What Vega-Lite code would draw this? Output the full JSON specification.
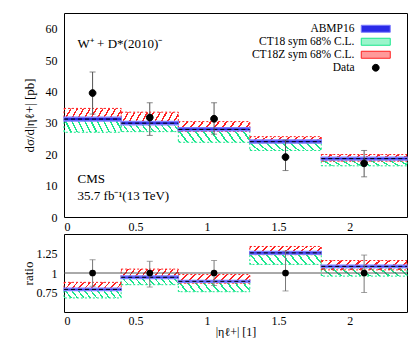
{
  "$schema": "https://vega.github.io/schema/vega-lite/v6.json",
  "autosize": {"type": "pad"},
  "padding": {"left": 21, "top": 12, "right": 6, "bottom": 0},
  "background": "white",
  "spacing": 0,
  "datasets": {
    "ct18": [
      {"x0": 0, "x1": 0.4, "lo": 27.0, "hi": 31.3, "rlo": 0.68, "rhi": 0.79},
      {"x0": 0.4, "x1": 0.8, "lo": 27.2, "hi": 30.0, "rlo": 0.85, "rhi": 0.95},
      {"x0": 0.8, "x1": 1.3, "lo": 23.8, "hi": 27.6, "rlo": 0.76, "rhi": 0.88},
      {"x0": 1.3, "x1": 1.8, "lo": 21.2, "hi": 23.6, "rlo": 1.11, "rhi": 1.235},
      {"x0": 1.8, "x1": 2.4, "lo": 16.3, "hi": 18.2, "rlo": 0.96, "rhi": 1.065}
    ],
    "ct18z": [
      {"x0": 0, "x1": 0.4, "lo": 31.0, "hi": 34.6, "rlo": 0.785, "rhi": 0.88},
      {"x0": 0.4, "x1": 0.8, "lo": 29.6, "hi": 33.4, "rlo": 0.935, "rhi": 1.05},
      {"x0": 0.8, "x1": 1.3, "lo": 27.3, "hi": 30.4, "rlo": 0.87, "rhi": 0.98},
      {"x0": 1.3, "x1": 1.8, "lo": 23.7, "hi": 25.6, "rlo": 1.235, "rhi": 1.34},
      {"x0": 1.8, "x1": 2.4, "lo": 17.8, "hi": 19.9, "rlo": 1.04, "rhi": 1.16}
    ],
    "abmp": [
      {"x0": 0, "x1": 0.4, "lo": 30.6, "c": 31.2, "hi": 31.8, "rlo": 0.775, "rc": 0.79, "rhi": 0.805},
      {"x0": 0.4, "x1": 0.8, "lo": 29.4, "c": 29.9, "hi": 30.4, "rlo": 0.93, "rc": 0.945, "rhi": 0.96},
      {"x0": 0.8, "x1": 1.3, "lo": 27.5, "c": 27.9, "hi": 28.4, "rlo": 0.88, "rc": 0.893, "rhi": 0.905},
      {"x0": 1.3, "x1": 1.8, "lo": 23.6, "c": 24.0, "hi": 24.5, "rlo": 1.24, "rc": 1.258, "rhi": 1.275},
      {"x0": 1.8, "x1": 2.4, "lo": 18.2, "c": 18.6, "hi": 19.0, "rlo": 1.07, "rc": 1.085, "rhi": 1.10}
    ],
    "pts": [
      {"model": "Data", "x": 0.2, "y": 39.5, "lo": 32.8, "hi": 46.2, "ratio": 1, "rlo": 0.83, "rhi": 1.17},
      {"model": "Data", "x": 0.6, "y": 31.7, "lo": 26.0, "hi": 36.4, "ratio": 1, "rlo": 0.82, "rhi": 1.15},
      {"model": "Data", "x": 1.05, "y": 31.3, "lo": 26.4, "hi": 36.4, "ratio": 1, "rlo": 0.84, "rhi": 1.16},
      {"model": "Data", "x": 1.55, "y": 19.1, "lo": 14.8, "hi": 24.5, "ratio": 1, "rlo": 0.77, "rhi": 1.28},
      {"model": "Data", "x": 2.1, "y": 17.1, "lo": 12.8, "hi": 21.2, "ratio": 1, "rlo": 0.75, "rhi": 1.23}
    ]
  },
  "config": {
    "view": {"stroke": "black", "strokeWidth": 1},
    "font": "Liberation Serif",
    "axis": {"labelFont": "Liberation Serif", "labelFontSize": 12, "labelColor": "black", "tickColor": "#333", "tickWidth": 1, "titleFont": "Liberation Serif", "titleFontSize": 13, "titleFontWeight": "normal", "titleColor": "black", "domain": false, "grid": false, "tickSize": 0, "labelPadding": 4, "labelOverlap": false, "labelSeparation": -100}
  },
  "resolve": {
    "scale": {"fill": "independent", "stroke": "independent", "shape": "independent"},
    "legend": {"fill": "independent", "stroke": "independent", "shape": "independent"}
  },
  "vconcat": [
    {
      "width": 343,
      "height": 204,
      "layer": [
        {
          "layer": [
            {
              "data": {"name": "ct18"},
              "mark": {"type": "rect", "stroke": "#19e68c", "strokeWidth": 1, "strokeDash": [2, 2],
                "fill": {"gradient": "linear", "x1": 0, "y1": 1, "x2": 1.1, "y2": 0.87, "stops": [
                  {"offset": 0, "color": "#19e68c"}, {"offset": 0.025, "color": "#19e68c"}, {"offset": 0.025, "color": "transparent"}, {"offset": 0.1, "color": "transparent"},
                  {"offset": 0.1, "color": "#19e68c"}, {"offset": 0.125, "color": "#19e68c"}, {"offset": 0.125, "color": "transparent"}, {"offset": 0.2, "color": "transparent"},
                  {"offset": 0.2, "color": "#19e68c"}, {"offset": 0.225, "color": "#19e68c"}, {"offset": 0.225, "color": "transparent"}, {"offset": 0.3, "color": "transparent"},
                  {"offset": 0.3, "color": "#19e68c"}, {"offset": 0.325, "color": "#19e68c"}, {"offset": 0.325, "color": "transparent"}, {"offset": 0.4, "color": "transparent"},
                  {"offset": 0.4, "color": "#19e68c"}, {"offset": 0.425, "color": "#19e68c"}, {"offset": 0.425, "color": "transparent"}, {"offset": 0.5, "color": "transparent"},
                  {"offset": 0.5, "color": "#19e68c"}, {"offset": 0.525, "color": "#19e68c"}, {"offset": 0.525, "color": "transparent"}, {"offset": 0.6, "color": "transparent"},
                  {"offset": 0.6, "color": "#19e68c"}, {"offset": 0.625, "color": "#19e68c"}, {"offset": 0.625, "color": "transparent"}, {"offset": 0.7, "color": "transparent"},
                  {"offset": 0.7, "color": "#19e68c"}, {"offset": 0.725, "color": "#19e68c"}, {"offset": 0.725, "color": "transparent"}, {"offset": 0.8, "color": "transparent"},
                  {"offset": 0.8, "color": "#19e68c"}, {"offset": 0.825, "color": "#19e68c"}, {"offset": 0.825, "color": "transparent"}, {"offset": 0.9, "color": "transparent"},
                  {"offset": 0.9, "color": "#19e68c"}, {"offset": 0.925, "color": "#19e68c"}, {"offset": 0.925, "color": "transparent"}, {"offset": 1, "color": "transparent"}]}},
              "encoding": {
                "x": {"field": "x0", "type": "quantitative", "title": null, "scale": {"domain": [0, 2.4], "nice": false, "zero": false},
                  "axis": {"title": null, "values": [0, 0.5, 1, 1.5, 2], "format": ".1~f", "ticks": false, "labelPadding": 4}},
                "x2": {"field": "x1"},
                "y": {"field": "lo", "type": "quantitative", "scale": {"domain": [0, 65], "nice": false, "zero": false},
                  "axis": {"title": "dσ/d|ηℓ+| [pb]", "values": [0, 20, 40, 60], "format": "d", "ticks": false, "labelPadding": 7, "titlePadding": 9}},
                "y2": {"field": "hi"}
              }
            },
            {
              "data": {"name": "ct18z"},
              "mark": {"type": "rect", "stroke": "#ff2020", "strokeWidth": 1, "strokeDash": [2, 2],
                "fill": {"gradient": "linear", "x1": 0, "y1": 0, "x2": 1.1, "y2": 0.13, "stops": [
                  {"offset": 0, "color": "#ff2020"}, {"offset": 0.025, "color": "#ff2020"}, {"offset": 0.025, "color": "transparent"}, {"offset": 0.1, "color": "transparent"},
                  {"offset": 0.1, "color": "#ff2020"}, {"offset": 0.125, "color": "#ff2020"}, {"offset": 0.125, "color": "transparent"}, {"offset": 0.2, "color": "transparent"},
                  {"offset": 0.2, "color": "#ff2020"}, {"offset": 0.225, "color": "#ff2020"}, {"offset": 0.225, "color": "transparent"}, {"offset": 0.3, "color": "transparent"},
                  {"offset": 0.3, "color": "#ff2020"}, {"offset": 0.325, "color": "#ff2020"}, {"offset": 0.325, "color": "transparent"}, {"offset": 0.4, "color": "transparent"},
                  {"offset": 0.4, "color": "#ff2020"}, {"offset": 0.425, "color": "#ff2020"}, {"offset": 0.425, "color": "transparent"}, {"offset": 0.5, "color": "transparent"},
                  {"offset": 0.5, "color": "#ff2020"}, {"offset": 0.525, "color": "#ff2020"}, {"offset": 0.525, "color": "transparent"}, {"offset": 0.6, "color": "transparent"},
                  {"offset": 0.6, "color": "#ff2020"}, {"offset": 0.625, "color": "#ff2020"}, {"offset": 0.625, "color": "transparent"}, {"offset": 0.7, "color": "transparent"},
                  {"offset": 0.7, "color": "#ff2020"}, {"offset": 0.725, "color": "#ff2020"}, {"offset": 0.725, "color": "transparent"}, {"offset": 0.8, "color": "transparent"},
                  {"offset": 0.8, "color": "#ff2020"}, {"offset": 0.825, "color": "#ff2020"}, {"offset": 0.825, "color": "transparent"}, {"offset": 0.9, "color": "transparent"},
                  {"offset": 0.9, "color": "#ff2020"}, {"offset": 0.925, "color": "#ff2020"}, {"offset": 0.925, "color": "transparent"}, {"offset": 1, "color": "transparent"}]}},
              "encoding": {
                "x": {"field": "x0", "type": "quantitative"},
                "x2": {"field": "x1"},
                "y": {"field": "lo", "type": "quantitative"},
                "y2": {"field": "hi"}
              }
            },
            {
              "data": {"name": "abmp"},
              "mark": {"type": "rect", "fill": "#2a2ae8", "stroke": "#7d7dff", "strokeWidth": 1.5},
              "encoding": {
                "x": {"field": "x0", "type": "quantitative"},
                "x2": {"field": "x1"},
                "y": {"field": "lo", "type": "quantitative"},
                "y2": {"field": "hi"}
              }
            },
            {
              "data": {"name": "abmp"},
              "mark": {"type": "rule", "color": "black", "strokeWidth": 1, "strokeDash": [4, 3]},
              "encoding": {
                "x": {"field": "x0", "type": "quantitative"},
                "x2": {"field": "x1"},
                "y": {"field": "c", "type": "quantitative"}
              }
            },
            {
              "data": {"name": "pts"},
              "mark": {"type": "rule", "color": "#555", "strokeWidth": 1},
              "encoding": {
                "x": {"field": "x", "type": "quantitative"},
                "y": {"field": "lo", "type": "quantitative"},
                "y2": {"field": "hi"}
              }
            },
            {
              "data": {"name": "pts"},
              "mark": {"type": "tick", "orient": "horizontal", "size": 6, "thickness": 1, "color": "#555"},
              "encoding": {
                "x": {"field": "x", "type": "quantitative"},
                "y": {"field": "lo", "type": "quantitative"}
              }
            },
            {
              "data": {"name": "pts"},
              "mark": {"type": "tick", "orient": "horizontal", "size": 6, "thickness": 1, "color": "#555"},
              "encoding": {
                "x": {"field": "x", "type": "quantitative"},
                "y": {"field": "hi", "type": "quantitative"}
              }
            },
            {
              "data": {"name": "pts"},
              "mark": {"type": "point", "filled": true, "opacity": 1, "strokeWidth": 1, "size": 100},
              "encoding": {
                "x": {"field": "x", "type": "quantitative"},
                "y": {"field": "y", "type": "quantitative"},
                "fill": {"field": "model", "type": "nominal",
                  "scale": {"domain": ["ABMP16", "CT18 sym 68% C.L.", "CT18Z sym 68% C.L.", "Data"], "range": ["#2a2ae8", "#9af5cb", "#ff9a9a", "black"]},
                  "legend": {"orient": "none", "legendX": 306, "legendY": 10, "title": null, "labelAlign": "right", "labelOffset": -27, "labelFont": "Liberation Serif", "labelFontSize": 11.5, "labelColor": "black", "rowPadding": 0, "padding": 0, "symbolStrokeWidth": 1, "symbolOpacity": 1, "symbolSize": 100}},
                "stroke": {"field": "model", "type": "nominal",
                  "scale": {"domain": ["ABMP16", "CT18 sym 68% C.L.", "CT18Z sym 68% C.L.", "Data"], "range": ["#7d7dff", "#19e68c", "#ff2020", "black"]},
                  "legend": {"orient": "none", "legendX": 306, "legendY": 10, "title": null, "labelAlign": "right", "labelOffset": -27, "labelFont": "Liberation Serif", "labelFontSize": 11.5, "labelColor": "black", "rowPadding": 0, "padding": 0, "symbolStrokeWidth": 1, "symbolOpacity": 1, "symbolSize": 100}},
                "shape": {"field": "model", "type": "nominal",
                  "scale": {"domain": ["ABMP16", "CT18 sym 68% C.L.", "CT18Z sym 68% C.L.", "Data"], "range": ["M-2.9,-0.7H2.9V0.7H-2.9Z", "M-2.9,-0.7H2.9V0.7H-2.9Z", "M-2.9,-0.7H2.9V0.7H-2.9Z", "M-0.68,0A0.68,0.68 0 1,0 0.68,0A0.68,0.68 0 1,0 -0.68,0Z"]},
                  "legend": {"orient": "none", "legendX": 306, "legendY": 10, "title": null, "labelAlign": "right", "labelOffset": -27, "labelFont": "Liberation Serif", "labelFontSize": 11.5, "labelColor": "black", "rowPadding": 0, "padding": 0, "symbolStrokeWidth": 1, "symbolOpacity": 1, "symbolSize": 100}}
              }
            }
          ]
        },
        {
          "data": {"values": [{"t": "W⁺ + D*(2010)⁻"}]},
          "mark": {"type": "text", "align": "left", "baseline": "middle", "fontSize": 13, "font": "Liberation Serif", "color": "black"},
          "encoding": {
            "x": {"datum": 0.095, "type": "quantitative",
              "axis": {"orient": "top", "title": null, "labels": false, "tickSize": 0,
                "values": [0, 0.1, 0.2, 0.3, 0.4, 0.5, 0.6, 0.7, 0.8, 0.9, 1, 1.1, 1.2, 1.3, 1.4, 1.5, 1.6, 1.7, 1.8, 1.9, 2, 2.1, 2.2, 2.3, 2.4],
                "encode": {"ticks": {"y2": {"value": {"signal": "datum.value % 0.5 === 0 ? 9 : 4"}}}}}},
            "y": {"datum": 55, "type": "quantitative",
              "axis": {"orient": "right", "title": null, "labels": false, "tickSize": 0,
                "values": [0, 2, 4, 6, 8, 10, 12, 14, 16, 18, 20, 22, 24, 26, 28, 30, 32, 34, 36, 38, 40, 42, 44, 46, 48, 50, 52, 54, 56, 58, 60, 62, 64],
                "encode": {"ticks": {"x2": {"value": {"signal": "datum.value % 10 === 0 ? -9 : -4"}}}}}},
            "text": {"field": "t"}
          }
        },
        {
          "data": {"values": [{"t": "CMS"}]},
          "mark": {"type": "text", "align": "left", "baseline": "middle", "fontSize": 13, "font": "Liberation Serif", "color": "black"},
          "encoding": {
            "x": {"datum": 0.095, "type": "quantitative",
              "axis": {"orient": "bottom", "title": null, "labels": false, "tickSize": 0,
                "values": [0, 0.1, 0.2, 0.3, 0.4, 0.5, 0.6, 0.7, 0.8, 0.9, 1, 1.1, 1.2, 1.3, 1.4, 1.5, 1.6, 1.7, 1.8, 1.9, 2, 2.1, 2.2, 2.3, 2.4],
                "encode": {"ticks": {"y2": {"value": {"signal": "datum.value % 0.5 === 0 ? -9 : -4"}}}}}},
            "y": {"datum": 12.2, "type": "quantitative",
              "axis": {"orient": "left", "title": null, "labels": false, "tickSize": 0,
                "values": [0, 2, 4, 6, 8, 10, 12, 14, 16, 18, 20, 22, 24, 26, 28, 30, 32, 34, 36, 38, 40, 42, 44, 46, 48, 50, 52, 54, 56, 58, 60, 62, 64],
                "encode": {"ticks": {"x2": {"value": {"signal": "datum.value % 10 === 0 ? 9 : 4"}}}}}},
            "text": {"field": "t"}
          }
        },
        {
          "data": {"values": [{"t": "35.7 fb⁻¹(13 TeV)"}]},
          "mark": {"type": "text", "align": "left", "baseline": "middle", "fontSize": 13, "font": "Liberation Serif", "color": "black"},
          "encoding": {
            "x": {"datum": 0.095, "type": "quantitative", "axis": null},
            "y": {"datum": 6.7, "type": "quantitative",
              "axis": {"orient": "left", "title": null, "values": [10, 30, 50], "format": "d", "ticks": false, "labelPadding": 7}},
            "text": {"field": "t"}
          }
        }
      ],
      "resolve": {"axis": {"x": "independent", "y": "independent"}}
    },
    {
      "width": 343,
      "height": 78,
      "layer": [
        {
          "layer": [
            {
              "data": {"name": "ct18"},
              "mark": {"type": "rect", "stroke": "#19e68c", "strokeWidth": 1, "strokeDash": [2, 2],
                "fill": {"gradient": "linear", "x1": 0, "y1": 1, "x2": 1.1, "y2": 0.87, "stops": [
                  {"offset": 0, "color": "#19e68c"}, {"offset": 0.025, "color": "#19e68c"}, {"offset": 0.025, "color": "transparent"}, {"offset": 0.1, "color": "transparent"},
                  {"offset": 0.1, "color": "#19e68c"}, {"offset": 0.125, "color": "#19e68c"}, {"offset": 0.125, "color": "transparent"}, {"offset": 0.2, "color": "transparent"},
                  {"offset": 0.2, "color": "#19e68c"}, {"offset": 0.225, "color": "#19e68c"}, {"offset": 0.225, "color": "transparent"}, {"offset": 0.3, "color": "transparent"},
                  {"offset": 0.3, "color": "#19e68c"}, {"offset": 0.325, "color": "#19e68c"}, {"offset": 0.325, "color": "transparent"}, {"offset": 0.4, "color": "transparent"},
                  {"offset": 0.4, "color": "#19e68c"}, {"offset": 0.425, "color": "#19e68c"}, {"offset": 0.425, "color": "transparent"}, {"offset": 0.5, "color": "transparent"},
                  {"offset": 0.5, "color": "#19e68c"}, {"offset": 0.525, "color": "#19e68c"}, {"offset": 0.525, "color": "transparent"}, {"offset": 0.6, "color": "transparent"},
                  {"offset": 0.6, "color": "#19e68c"}, {"offset": 0.625, "color": "#19e68c"}, {"offset": 0.625, "color": "transparent"}, {"offset": 0.7, "color": "transparent"},
                  {"offset": 0.7, "color": "#19e68c"}, {"offset": 0.725, "color": "#19e68c"}, {"offset": 0.725, "color": "transparent"}, {"offset": 0.8, "color": "transparent"},
                  {"offset": 0.8, "color": "#19e68c"}, {"offset": 0.825, "color": "#19e68c"}, {"offset": 0.825, "color": "transparent"}, {"offset": 0.9, "color": "transparent"},
                  {"offset": 0.9, "color": "#19e68c"}, {"offset": 0.925, "color": "#19e68c"}, {"offset": 0.925, "color": "transparent"}, {"offset": 1, "color": "transparent"}]}},
              "encoding": {
                "x": {"field": "x0", "type": "quantitative", "scale": {"domain": [0, 2.4], "nice": false, "zero": false},
                  "axis": {"title": "|ηℓ+| [1]", "titleFontSize": 12, "values": [0, 0.5, 1, 1.5, 2], "format": ".1~f", "ticks": false, "labelPadding": 3, "titlePadding": 0}},
                "x2": {"field": "x1"},
                "y": {"field": "rlo", "type": "quantitative", "scale": {"domain": [0.5, 1.5], "nice": false, "zero": false},
                  "axis": {"title": "ratio", "values": [0.75, 1.25], "format": ".2~f", "ticks": false, "labelPadding": 7, "titlePadding": 1}},
                "y2": {"field": "rhi"}
              }
            },
            {
              "data": {"name": "ct18z"},
              "mark": {"type": "rect", "stroke": "#ff2020", "strokeWidth": 1, "strokeDash": [2, 2],
                "fill": {"gradient": "linear", "x1": 0, "y1": 0, "x2": 1.1, "y2": 0.13, "stops": [
                  {"offset": 0, "color": "#ff2020"}, {"offset": 0.025, "color": "#ff2020"}, {"offset": 0.025, "color": "transparent"}, {"offset": 0.1, "color": "transparent"},
                  {"offset": 0.1, "color": "#ff2020"}, {"offset": 0.125, "color": "#ff2020"}, {"offset": 0.125, "color": "transparent"}, {"offset": 0.2, "color": "transparent"},
                  {"offset": 0.2, "color": "#ff2020"}, {"offset": 0.225, "color": "#ff2020"}, {"offset": 0.225, "color": "transparent"}, {"offset": 0.3, "color": "transparent"},
                  {"offset": 0.3, "color": "#ff2020"}, {"offset": 0.325, "color": "#ff2020"}, {"offset": 0.325, "color": "transparent"}, {"offset": 0.4, "color": "transparent"},
                  {"offset": 0.4, "color": "#ff2020"}, {"offset": 0.425, "color": "#ff2020"}, {"offset": 0.425, "color": "transparent"}, {"offset": 0.5, "color": "transparent"},
                  {"offset": 0.5, "color": "#ff2020"}, {"offset": 0.525, "color": "#ff2020"}, {"offset": 0.525, "color": "transparent"}, {"offset": 0.6, "color": "transparent"},
                  {"offset": 0.6, "color": "#ff2020"}, {"offset": 0.625, "color": "#ff2020"}, {"offset": 0.625, "color": "transparent"}, {"offset": 0.7, "color": "transparent"},
                  {"offset": 0.7, "color": "#ff2020"}, {"offset": 0.725, "color": "#ff2020"}, {"offset": 0.725, "color": "transparent"}, {"offset": 0.8, "color": "transparent"},
                  {"offset": 0.8, "color": "#ff2020"}, {"offset": 0.825, "color": "#ff2020"}, {"offset": 0.825, "color": "transparent"}, {"offset": 0.9, "color": "transparent"},
                  {"offset": 0.9, "color": "#ff2020"}, {"offset": 0.925, "color": "#ff2020"}, {"offset": 0.925, "color": "transparent"}, {"offset": 1, "color": "transparent"}]}},
              "encoding": {
                "x": {"field": "x0", "type": "quantitative"},
                "x2": {"field": "x1"},
                "y": {"field": "rlo", "type": "quantitative"},
                "y2": {"field": "rhi"}
              }
            },
            {
              "data": {"name": "abmp"},
              "mark": {"type": "rect", "fill": "#2a2ae8", "stroke": "#7d7dff", "strokeWidth": 1.5},
              "encoding": {
                "x": {"field": "x0", "type": "quantitative"},
                "x2": {"field": "x1"},
                "y": {"field": "rlo", "type": "quantitative"},
                "y2": {"field": "rhi"}
              }
            },
            {
              "data": {"name": "abmp"},
              "mark": {"type": "rule", "color": "black", "strokeWidth": 1, "strokeDash": [4, 3]},
              "encoding": {
                "x": {"field": "x0", "type": "quantitative"},
                "x2": {"field": "x1"},
                "y": {"field": "rc", "type": "quantitative"}
              }
            },
            {
              "data": {"name": "pts"},
              "mark": {"type": "rule", "color": "#777", "strokeWidth": 1},
              "encoding": {
                "x": {"field": "x", "type": "quantitative"},
                "y": {"field": "rlo", "type": "quantitative"},
                "y2": {"field": "rhi"}
              }
            },
            {
              "data": {"name": "pts"},
              "mark": {"type": "tick", "orient": "horizontal", "size": 6, "thickness": 1, "color": "#777"},
              "encoding": {
                "x": {"field": "x", "type": "quantitative"},
                "y": {"field": "rlo", "type": "quantitative"}
              }
            }
          ]
        },
        {
          "data": {"values": [{"ratio": 1}]},
          "mark": {"type": "rule", "color": "#555", "strokeWidth": 1},
          "encoding": {
            "y": {"field": "ratio", "type": "quantitative",
              "axis": {"orient": "left", "title": null, "values": [1], "format": ".2~f", "ticks": false, "labelPadding": 7}}
          }
        },
        {
          "data": {"name": "pts"},
          "mark": {"type": "tick", "orient": "horizontal", "size": 6, "thickness": 1, "color": "#777"},
          "encoding": {
            "x": {"field": "x", "type": "quantitative",
              "axis": {"orient": "bottom", "title": null, "labels": false, "tickSize": 0,
                "values": [0, 0.1, 0.2, 0.3, 0.4, 0.5, 0.6, 0.7, 0.8, 0.9, 1, 1.1, 1.2, 1.3, 1.4, 1.5, 1.6, 1.7, 1.8, 1.9, 2, 2.1, 2.2, 2.3, 2.4],
                "encode": {"ticks": {"y2": {"value": {"signal": "datum.value % 0.5 === 0 ? -9 : -4"}}}}}},
            "y": {"field": "rhi", "type": "quantitative",
              "axis": {"orient": "left", "title": null, "labels": false, "tickSize": 0,
                "values": [0.5, 0.625, 0.75, 0.875, 1, 1.125, 1.25, 1.375, 1.5],
                "encode": {"ticks": {"x2": {"value": {"signal": "datum.value % 0.25 === 0 ? 9 : 4"}}}}}}
          }
        },
        {
          "data": {"name": "pts"},
          "mark": {"type": "point", "filled": true, "opacity": 1, "size": 45, "color": "black"},
          "encoding": {
            "x": {"field": "x", "type": "quantitative",
              "axis": {"orient": "top", "title": null, "labels": false, "tickSize": 0,
                "values": [0, 0.1, 0.2, 0.3, 0.4, 0.5, 0.6, 0.7, 0.8, 0.9, 1, 1.1, 1.2, 1.3, 1.4, 1.5, 1.6, 1.7, 1.8, 1.9, 2, 2.1, 2.2, 2.3, 2.4],
                "encode": {"ticks": {"y2": {"value": {"signal": "datum.value % 0.5 === 0 ? 9 : 4"}}}}}},
            "y": {"field": "ratio", "type": "quantitative",
              "axis": {"orient": "right", "title": null, "labels": false, "tickSize": 0,
                "values": [0.5, 0.625, 0.75, 0.875, 1, 1.125, 1.25, 1.375, 1.5],
                "encode": {"ticks": {"x2": {"value": {"signal": "datum.value % 0.25 === 0 ? -9 : -4"}}}}}}
          }
        }
      ],
      "resolve": {"axis": {"x": "independent", "y": "independent"}}
    }
  ]
}
